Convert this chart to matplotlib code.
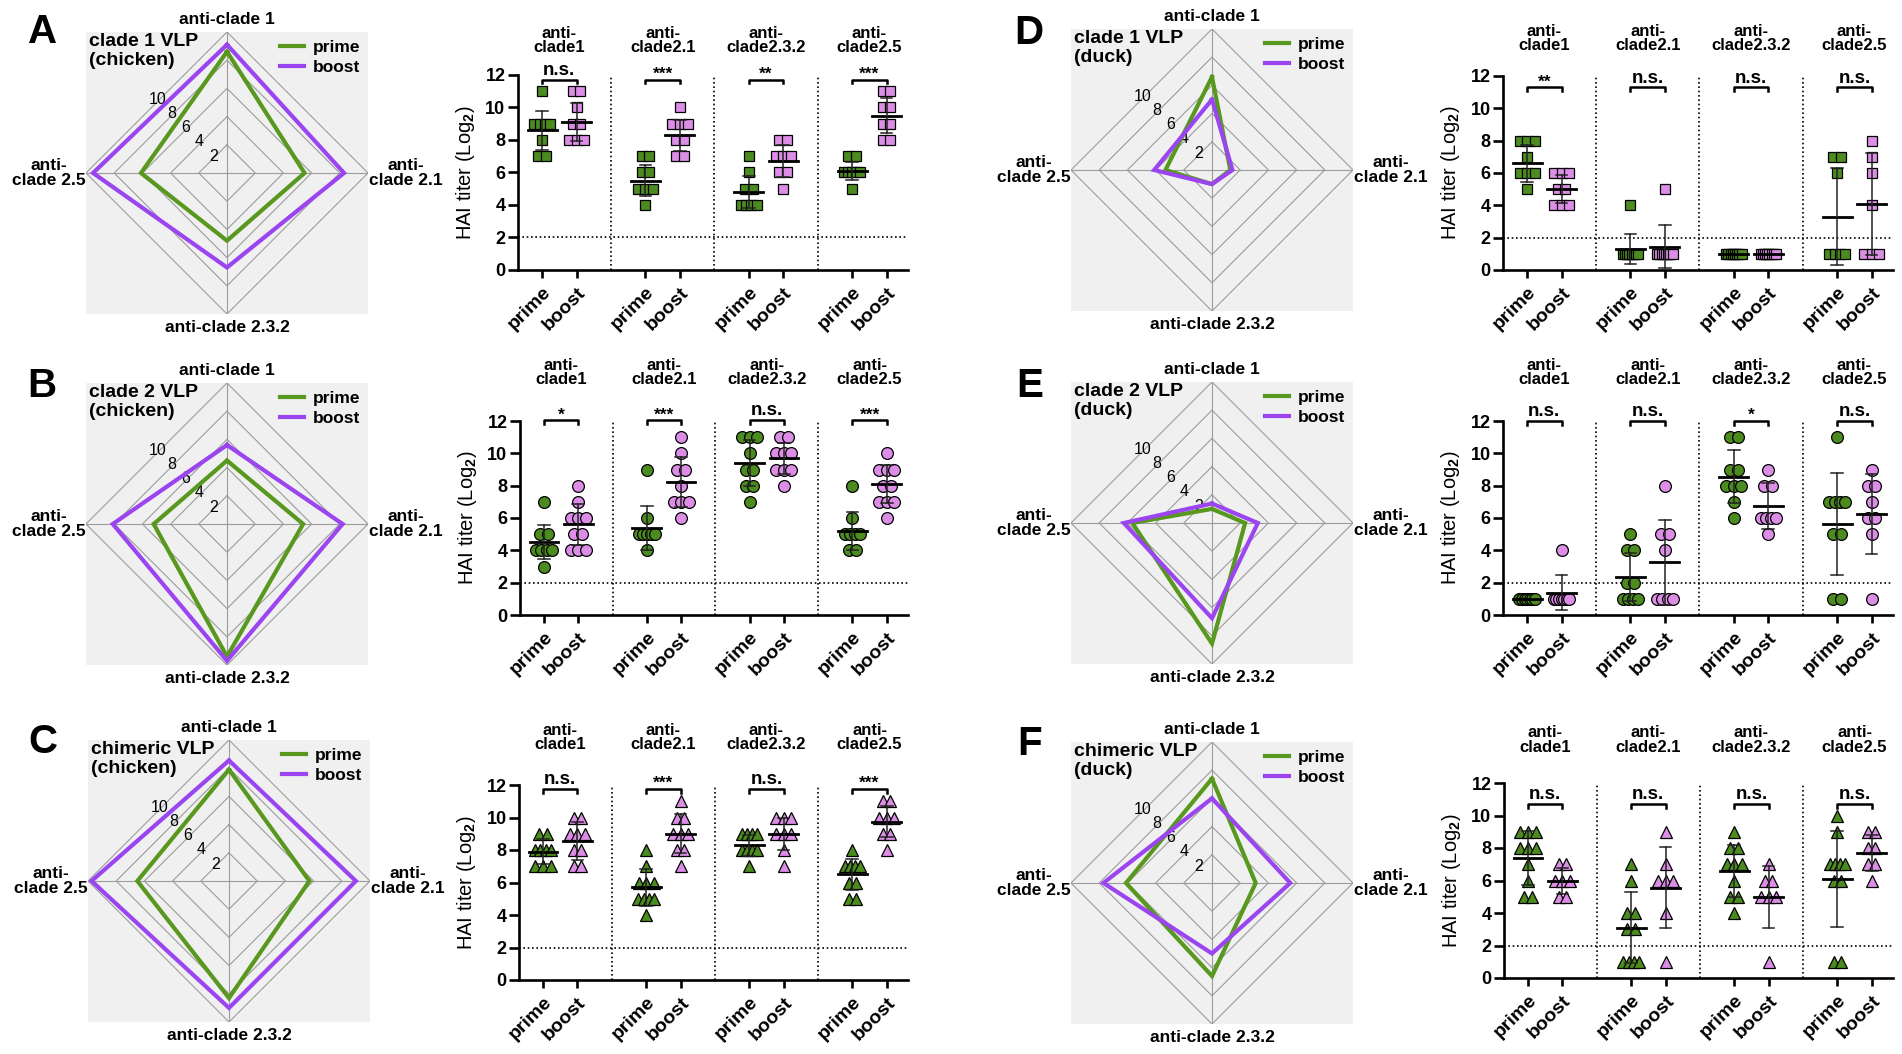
import numpy as np
import matplotlib
matplotlib.use('Agg')
from matplotlib import pyplot as plt

plt.rcParams['font.family'] = ['Liberation Sans', 'DejaVu Sans']
plt.rcParams['font.weight'] = 'bold'
plt.rcParams['mathtext.fontset'] = 'custom'
plt.rcParams['mathtext.rm'] = 'Liberation Sans:bold'
plt.rcParams['mathtext.bf'] = 'Liberation Sans:bold'

# ---- data ----
groups = ['anti-\nclade1', 'anti-\nclade2.1', 'anti-\nclade2.3.2', 'anti-\nclade2.5']
radar_labels = ['anti-clade 1', 'anti-\nclade 2.1', 'anti-clade 2.3.2', 'anti-\nclade 2.5']
ring_levels = [2, 4, 6, 8, 10]
letters = ['A', 'B', 'C', 'D', 'E', 'F']
titles = ['clade 1 VLP\n(chicken)', 'clade 2 VLP\n(chicken)', 'chimeric VLP\n(chicken)',
          'clade 1 VLP\n(duck)', 'clade 2 VLP\n(duck)', 'chimeric VLP\n(duck)']
markers = ['s', 'o', '^', 's', 'o', '^']

a_prime = [[11, 9, 9, 9, 9, 8, 7, 7], [7, 7, 6, 6, 5, 5, 5, 4],
           [7, 6, 5, 5, 4, 4, 4, 4], [7, 7, 6, 6, 6, 6, 6, 5]]
a_boost = [[11, 11, 10, 9, 9, 8, 8, 8], [10, 9, 9, 9, 8, 8, 7, 7],
           [8, 8, 7, 7, 7, 6, 6, 5], [11, 11, 10, 10, 9, 9, 8, 8]]
a_prime_mean = [8.6, 5.5, 4.8, 6.1]
a_prime_sd = [1.2, 0.95, 1.0, 0.55]
a_boost_mean = [9.1, 8.3, 6.7, 9.5]
a_boost_sd = [1.15, 0.95, 1.0, 1.1]
a_sig = ['n.s.', '***', '**', '***']

b_prime = [[7, 5, 5, 4, 4, 4, 4, 3], [9, 6, 5, 5, 5, 5, 5, 4],
           [11, 11, 11, 10, 9, 9, 8, 8, 7], [8, 6, 5, 5, 5, 5, 4, 4]]
b_boost = [[8, 7, 6, 6, 6, 5, 5, 4, 4, 4], [11, 10, 9, 9, 8, 7, 7, 7, 6],
           [11, 11, 10, 10, 10, 9, 9, 9, 8], [10, 9, 9, 9, 8, 8, 7, 7, 7, 6]]
b_prime_mean = [4.5, 5.4, 9.4, 5.2]
b_prime_sd = [1.05, 1.35, 1.45, 1.15]
b_boost_mean = [5.6, 8.2, 9.7, 8.1]
b_boost_sd = [1.25, 1.55, 0.95, 1.15]
b_sig = ['*', '***', 'n.s.', '***']

c_prime = [[9, 9, 8, 8, 8, 8, 7, 7, 7], [8, 7, 6, 6, 6, 5, 5, 5, 5, 4],
           [9, 9, 9, 9, 8, 8, 8, 8, 7], [8, 7, 7, 7, 7, 6, 6, 5, 5]]
c_boost = [[10, 10, 9, 9, 9, 8, 8, 7, 7], [11, 10, 10, 9, 9, 9, 8, 8, 7],
           [10, 10, 10, 9, 9, 9, 8, 7], [11, 11, 10, 10, 10, 9, 9, 8]]
c_prime_mean = [7.9, 5.7, 8.3, 6.5]
c_prime_sd = [0.75, 1.15, 0.65, 0.95]
c_boost_mean = [8.55, 9.0, 9.0, 9.75]
c_boost_sd = [1.15, 1.2, 1.0, 0.95]
c_sig = ['n.s.', '***', 'n.s.', '***']

d_prime = [[8, 8, 8, 7, 6, 6, 6, 5], [4, 1, 1, 1, 1, 1, 1, 1, 1],
           [1, 1, 1, 1, 1, 1, 1, 1], [7, 7, 6, 1, 1, 1, 1]]
d_boost = [[6, 6, 6, 5, 5, 4, 4, 4], [5, 1, 1, 1, 1, 1, 1, 1, 1],
           [1, 1, 1, 1, 1, 1, 1, 1], [8, 7, 6, 4, 1, 1, 1]]
d_prime_mean = [6.6, 1.3, 1.0, 3.3]
d_prime_sd = [1.15, 0.95, 0.0, 3.0]
d_boost_mean = [5.0, 1.45, 1.0, 4.1]
d_boost_sd = [0.85, 1.33, 0.0, 3.15]
d_sig = ['**', 'n.s.', 'n.s.', 'n.s.']

e_prime = [[1, 1, 1, 1, 1, 1, 1], [5, 4, 4, 2, 2, 1, 1, 1, 1],
           [11, 11, 9, 9, 8, 8, 8, 7, 6], [11, 7, 7, 7, 7, 5, 5, 1, 1]]
e_boost = [[4, 1, 1, 1, 1, 1, 1, 1], [8, 5, 5, 4, 1, 1, 1, 1],
           [9, 8, 8, 6, 6, 6, 6, 5], [9, 8, 8, 7, 6, 6, 5, 1]]
e_prime_mean = [1.0, 2.35, 8.55, 5.65]
e_prime_sd = [0.0, 1.5, 1.65, 3.15]
e_boost_mean = [1.38, 3.25, 6.75, 6.25]
e_boost_sd = [1.07, 2.65, 1.4, 2.5]
e_sig = ['n.s.', 'n.s.', '*', 'n.s.']

f_prime = [[9, 9, 9, 8, 8, 8, 7, 6, 5, 5], [7, 6, 4, 4, 3, 3, 1, 1, 1, 1],
           [9, 8, 8, 7, 7, 7, 6, 5, 5, 4], [10, 9, 7, 7, 7, 7, 6, 6, 1, 1]]
f_boost = [[7, 7, 6, 6, 6, 5, 5], [9, 7, 6, 6, 6, 4, 1],
           [7, 6, 6, 5, 5, 5, 1], [9, 9, 8, 8, 7, 7, 6]]
f_prime_mean = [7.4, 3.1, 6.6, 6.1]
f_prime_sd = [1.65, 2.2, 1.6, 2.95]
f_boost_mean = [6.0, 5.55, 5.0, 7.7]
f_boost_sd = [0.8, 2.5, 1.9, 1.1]
f_sig = ['n.s.', 'n.s.', 'n.s.', 'n.s.']

bracket_y = [11.7, 12.05, 11.75, 11.3, 12.0, 10.7]

GREEN = '#4c8b1f'
PURPLE = '#dc8de6'
GREEN_LINE = '#58981e'
PURPLE_LINE = '#9b45f0'
GRID = '#9c9c9c'

W, H = 1902, 1054
fig = plt.figure(figsize=(W / 100, H / 100), dpi=100)


def px_axes(x0, y0, x1, y1):
    return fig.add_axes([x0 / W, 1 - y1 / H, (x1 - x0) / W, (y1 - y0) / H])


def spread(vals, step=0.22, maxspan=0.45):
    vals = np.asarray(vals, dtype=float)
    off = np.zeros(len(vals))
    for v in np.unique(vals):
        idx = np.where(vals == v)[0]
        n = len(idx)
        if n > 1:
            s = min(step, maxspan / (n - 1))
            off[idx] = (np.arange(n) - (n - 1) / 2) * s
    return off


def draw_radar(ax, pm, bm, title):
    ax.set_xlim(-10, 10)
    ax.set_ylim(-10, 10)
    ax.set_facecolor('#f0f0f0')
    ax.set_xticks([])
    ax.set_yticks([])
    for s in ax.spines.values():
        s.set_visible(False)
    for v in ring_levels:
        ax.plot([0, v, 0, -v, 0], [v, 0, -v, 0, v], color=GRID, lw=0.8, zorder=1)
        ax.text(-v / 2 + 0.05, v / 2 + 0.2, str(v), fontsize=11.5, fontweight='normal',
                ha='center', va='center', zorder=2)
    ax.plot([0, 0], [-10, 10], color=GRID, lw=0.8, zorder=1)
    ax.plot([-10, 10], [0, 0], color=GRID, lw=0.8, zorder=1)
    for vals, col, lab in [(pm, GREEN_LINE, 'prime'), (bm, PURPLE_LINE, 'boost')]:
        xs = [0, vals[1], 0, -vals[3], 0]
        ys = [vals[0], 0, -vals[2], 0, vals[0]]
        ax.plot(xs, ys, color=col, lw=3, label=lab, zorder=3, clip_on=False,
                solid_joinstyle='miter')
    ax.legend(loc='upper right', frameon=False, prop={'size': 12.5, 'weight': 'bold'},
              handlelength=1.4, handletextpad=0.5, labelspacing=0.3,
              borderaxespad=0.15, borderpad=0.3)
    ax.text(0.01, 0.995, title, transform=ax.transAxes, ha='left', va='top',
            fontsize=14, linespacing=1.15)
    ax.annotate(radar_labels[0], (0, 10), xytext=(0, 9), textcoords='offset points',
                ha='center', va='center', fontsize=12.5)
    ax.annotate(radar_labels[2], (0, -10), xytext=(0, -9.5), textcoords='offset points',
                ha='center', va='center', fontsize=12.5)
    ax.annotate(radar_labels[1], (10, 0), xytext=(27, 0), textcoords='offset points',
                ha='center', va='center', fontsize=12.5, linespacing=1.05)
    ax.annotate(radar_labels[3], (-10, 0), xytext=(-27, 0), textcoords='offset points',
                ha='center', va='center', fontsize=12.5, linespacing=1.05)


def draw_scatter(ax, prime, boost, pm, psd, bm, bsd, sig, marker, by, title_off):
    pos_p = [3 * g for g in range(4)]
    pos_b = [3 * g + 1 for g in range(4)]
    ax.set_xlim(-0.7, 10.62)
    ax.set_ylim(0, 12)
    ms = 7.5 if marker == 's' else 8.5
    for g in range(4):
        for vals, x0, col in [(prime[g], pos_p[g], GREEN), (boost[g], pos_b[g], PURPLE)]:
            ax.plot(x0 + spread(vals), vals, marker=marker, ls='none', ms=ms,
                    mfc=col, mec='black', mew=0.9, zorder=3, clip_on=False)
        for x0, m, sd in [(pos_p[g], pm[g], psd[g]), (pos_b[g], bm[g], bsd[g])]:
            ax.plot([x0 - 0.42, x0 + 0.42], [m, m], color='black', lw=2.0, zorder=4)
            if sd > 0:
                ax.plot([x0, x0], [m - sd, m + sd], color='#222222', lw=1.1, zorder=4)
                for y in (m - sd, m + sd):
                    ax.plot([x0 - 0.17, x0 + 0.17], [y, y], color='#222222', lw=1.1, zorder=4)
        # significance bracket
        ax.plot([pos_p[g], pos_p[g], pos_b[g], pos_b[g]], [by - 0.22, by, by, by - 0.22],
                color='black', lw=1.8, clip_on=False)
        if sig[g] == 'n.s.':
            ax.annotate(sig[g], ((pos_p[g] + pos_b[g]) / 2, by), xytext=(0, 0.5),
                        textcoords='offset points', ha='center', va='bottom',
                        fontsize=13.5, annotation_clip=False)
        else:
            ax.annotate(sig[g], ((pos_p[g] + pos_b[g]) / 2, by), xytext=(0, -1.5),
                        textcoords='offset points', ha='center', va='bottom',
                        fontsize=12.5, annotation_clip=False)
        ax.annotate(groups[g], ((pos_p[g] + pos_b[g]) / 2, 1.0), xycoords=('data', 'axes fraction'),
                    xytext=(0, title_off), textcoords='offset points', ha='center', va='center',
                    fontsize=12, linespacing=0.95, annotation_clip=False)
    ax.axhline(2, color='black', lw=1.2, ls=(0, (1, 1.6)), zorder=1)
    ax.vlines([2, 5, 8], 0, 12, color='black', lw=1.2, linestyles=[(0, (1, 1.6))], zorder=1)
    for s in ['top', 'right']:
        ax.spines[s].set_visible(False)
    for s in ['left', 'bottom']:
        ax.spines[s].set_linewidth(1.9)
    ax.set_yticks(range(0, 13, 2))
    ax.set_xticks(pos_p + pos_b)
    ax.set_xticklabels(['prime'] * 4 + ['boost'] * 4, rotation=45, ha='right',
                       rotation_mode='anchor', fontsize=14)
    ax.tick_params(axis='y', labelsize=13, width=1.9, length=7, pad=2)
    ax.tick_params(axis='x', width=1.9, length=6, pad=4)
    ax.set_ylabel('HAI titer (Log$_\\mathbf{2}$)', fontsize=14.5, labelpad=6)


panels = [
    (a_prime, a_boost, a_prime_mean, a_prime_sd, a_boost_mean, a_boost_sd, a_sig),
    (b_prime, b_boost, b_prime_mean, b_prime_sd, b_boost_mean, b_boost_sd, b_sig),
    (c_prime, c_boost, c_prime_mean, c_prime_sd, c_boost_mean, c_boost_sd, c_sig),
    (d_prime, d_boost, d_prime_mean, d_prime_sd, d_boost_mean, d_boost_sd, d_sig),
    (e_prime, e_boost, e_prime_mean, e_prime_sd, e_boost_mean, e_boost_sd, e_sig),
    (f_prime, f_boost, f_prime_mean, f_prime_sd, f_boost_mean, f_boost_sd, f_sig),
]

# layout in pixels of the reference
radar_centers = [(227, 173), (227, 524), (229, 881), (1212, 170), (1212, 523), (1212, 883)]
scatter_boxes = [(518, 75, 908, 270), (520, 421, 908, 615), (519, 785, 908, 980),
                 (1503, 76, 1893, 270), (1503, 421, 1893, 615), (1504, 783, 1893, 978)]
title_offsets = [25, 35, 34, 27, 35, 31]
letter_pos = [(43, 32), (42, 386), (43, 742), (1029, 33), (1030, 386), (1030, 744)]

for i, (prime, boost, pm, psd, bm, bsd, sig) in enumerate(panels):
    cx, cy = radar_centers[i]
    rax = px_axes(cx - 141, cy - 141, cx + 141, cy + 141)
    draw_radar(rax, pm, bm, titles[i])
    sax = px_axes(*scatter_boxes[i])
    draw_scatter(sax, prime, boost, pm, psd, bm, bsd, sig, markers[i], bracket_y[i],
                 title_offsets[i])
    lx, ly = letter_pos[i]
    fig.text(lx / W, 1 - ly / H, letters[i], fontsize=29, fontweight='bold',
             ha='center', va='center')

fig.savefig('out.png', dpi=100, facecolor='white')
